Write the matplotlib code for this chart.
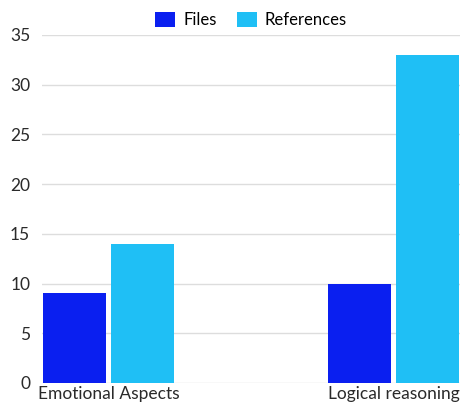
import matplotlib.pyplot as plt
import numpy as np

categories = ["Emotional Aspects", "Logical reasoning"]
files = [9, 10]
references = [14, 33]
y_ticks = [0, 5, 10, 15, 20, 25, 30, 35]

plt.rcParams['font.family'] = ['Lato', 'DejaVu Sans']

fig = plt.figure(figsize=(4.64, 4.08), dpi=100)
ax = fig.add_axes([0.0905, 0.0613, 0.9005, 0.853])

x = np.arange(len(categories))
w = 0.221
gap = 0.0175
ax.bar(x - (w + gap) / 2, files, width=w, color="#0a1ff0", label="Files", zorder=3)
ax.bar(x + (w + gap) / 2, references, width=w, color="#1fbff5", label="References", zorder=3)

ax.set_xlim(-0.233, 1.233)
ax.set_ylim(0, 35)
ax.set_yticks(y_ticks)
ax.set_xticks(x)
ax.set_xticklabels(categories)
ax.tick_params(length=0, labelsize=12.5, colors="#2a2a2a")
ax.tick_params(axis="x", pad=2)
ax.tick_params(axis="y", pad=8.5)
ax.grid(axis="y", color="#dddddd", linewidth=1, zorder=0)
for s in ax.spines.values():
    s.set_visible(False)

# legend centred over the plotting area
ax.legend(loc="upper center", bbox_to_anchor=(0.5, 1.11), ncol=2, frameon=False,
          fontsize=12, handlelength=1.2, handleheight=1.0, columnspacing=1.2,
          handletextpad=0.5)

fig.savefig("out.png", dpi=100)
